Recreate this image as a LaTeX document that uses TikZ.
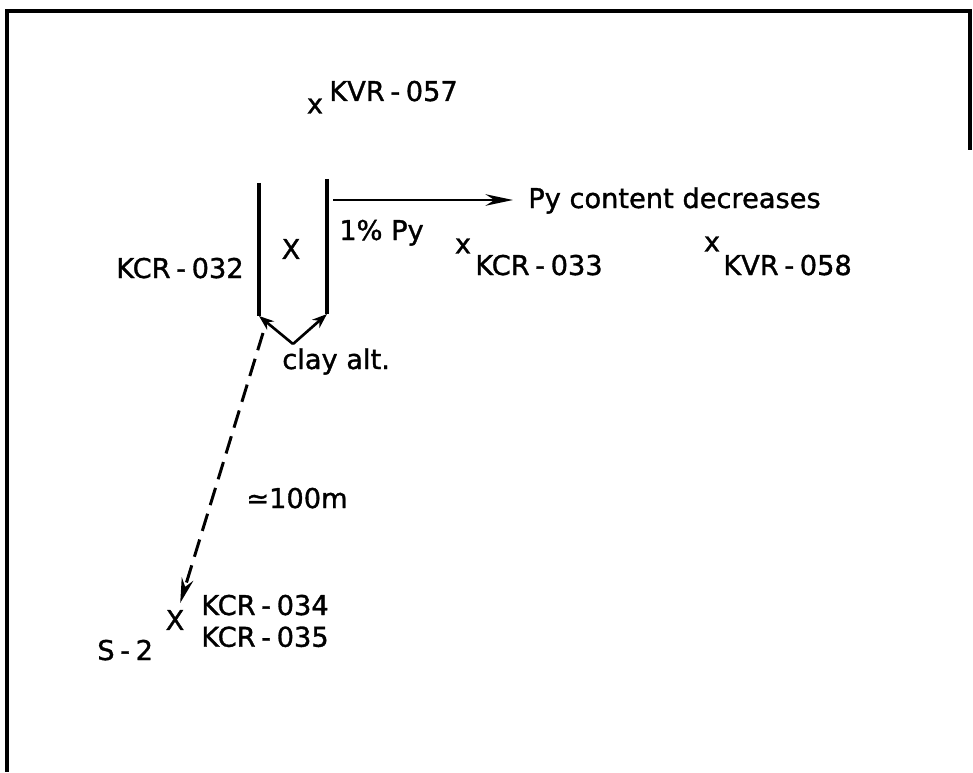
\documentclass[tikz,border=0pt]{standalone}
\usepackage{fontspec}
\setmainfont{DejaVu Sans}[FakeBold=1.2]
\usetikzlibrary{positioning, arrows.meta}
\newcommand{\hy}{\kern3.2pt-\kern3.2pt}

\begin{document}
\begin{tikzpicture}[x=0.2mm,y=-0.2mm,line width=1.5pt,
    >={Stealth[length=3mm,width=2.2mm]},
    font=\fontsize{15.5}{18}\selectfont,
    txt/.style={inner sep=0pt},
    wall/.style={line width=2.4pt},
    frame/.style={line width=2.2pt}]
    \useasboundingbox (0,0) rectangle (973,772);
    \draw[frame] (970,150) -- (970,11) -- (7,11) -- (7,772);

    % sample points and labels
    \node[txt] (x057) at (315,106) {x};
    \node[txt,anchor=base west] (kvr057) at (328,101) {KVR\hy057};
    \node[txt] (chx) at (291,249) {X};
    \node[txt,anchor=base east] (kcr032) at (245,278) {KCR\hy032};
    \node[txt,anchor=base west] (pct) at (338,240) {1\% Py};
    \node[txt] (x033) at (463,246) {x};
    \node[txt,anchor=base west] (kcr033) at (474,275) {KCR\hy033};
    \node[txt] (x058) at (712,244) {x};
    \node[txt,anchor=base west] (kvr058) at (722,275) {KVR\hy058};
    \node[txt,anchor=base west] (py) at (527,208) {Py content decreases};
    \node[txt,anchor=base west] (clay) at (281,369) {clay alt.};
    \node[txt,anchor=base west] (dist) at (245,508) {≃100m};
    \node[txt] (x034) at (175,620) {X};
    \node[txt,anchor=base west] (kcr034) at (200,615) {KCR\hy034};
    \node[txt] (kcr035) [below=1.7mm of kcr034.south west,anchor=north west] {KCR\hy035};
    \node[txt,anchor=base west] (s2) at (96,660) {S\hy2};

    % trench walls
    \coordinate (lwT) at (259,183);
    \coordinate (lwB) at (259,316);
    \coordinate (rwT) at (327,179);
    \coordinate (rwB) at (327,314);
    \draw[wall] (lwT) -- (lwB);
    \draw[wall] (rwT) -- (rwB);

    % clay alteration
    \coordinate (vtx) at (293,344);
    \draw[->] (vtx) -- (lwB);
    \draw[->] (vtx) -- (rwB);

    % trend and distance
    \coordinate (arrS) at (333,200);
    \draw[-{Stealth[length=5.5mm,width=2.3mm]}] (arrS) -- ([xshift=-2.8mm]arrS -| py.west);
    \coordinate (dS) at (263,333);
    \draw[dashed,dash pattern=on 3.6mm off 1.8mm,line width=1.7pt,
          -{Stealth[length=5mm,width=2.4mm]},shorten >=1.2mm] (dS) -- (x034);
\end{tikzpicture}
\end{document}
